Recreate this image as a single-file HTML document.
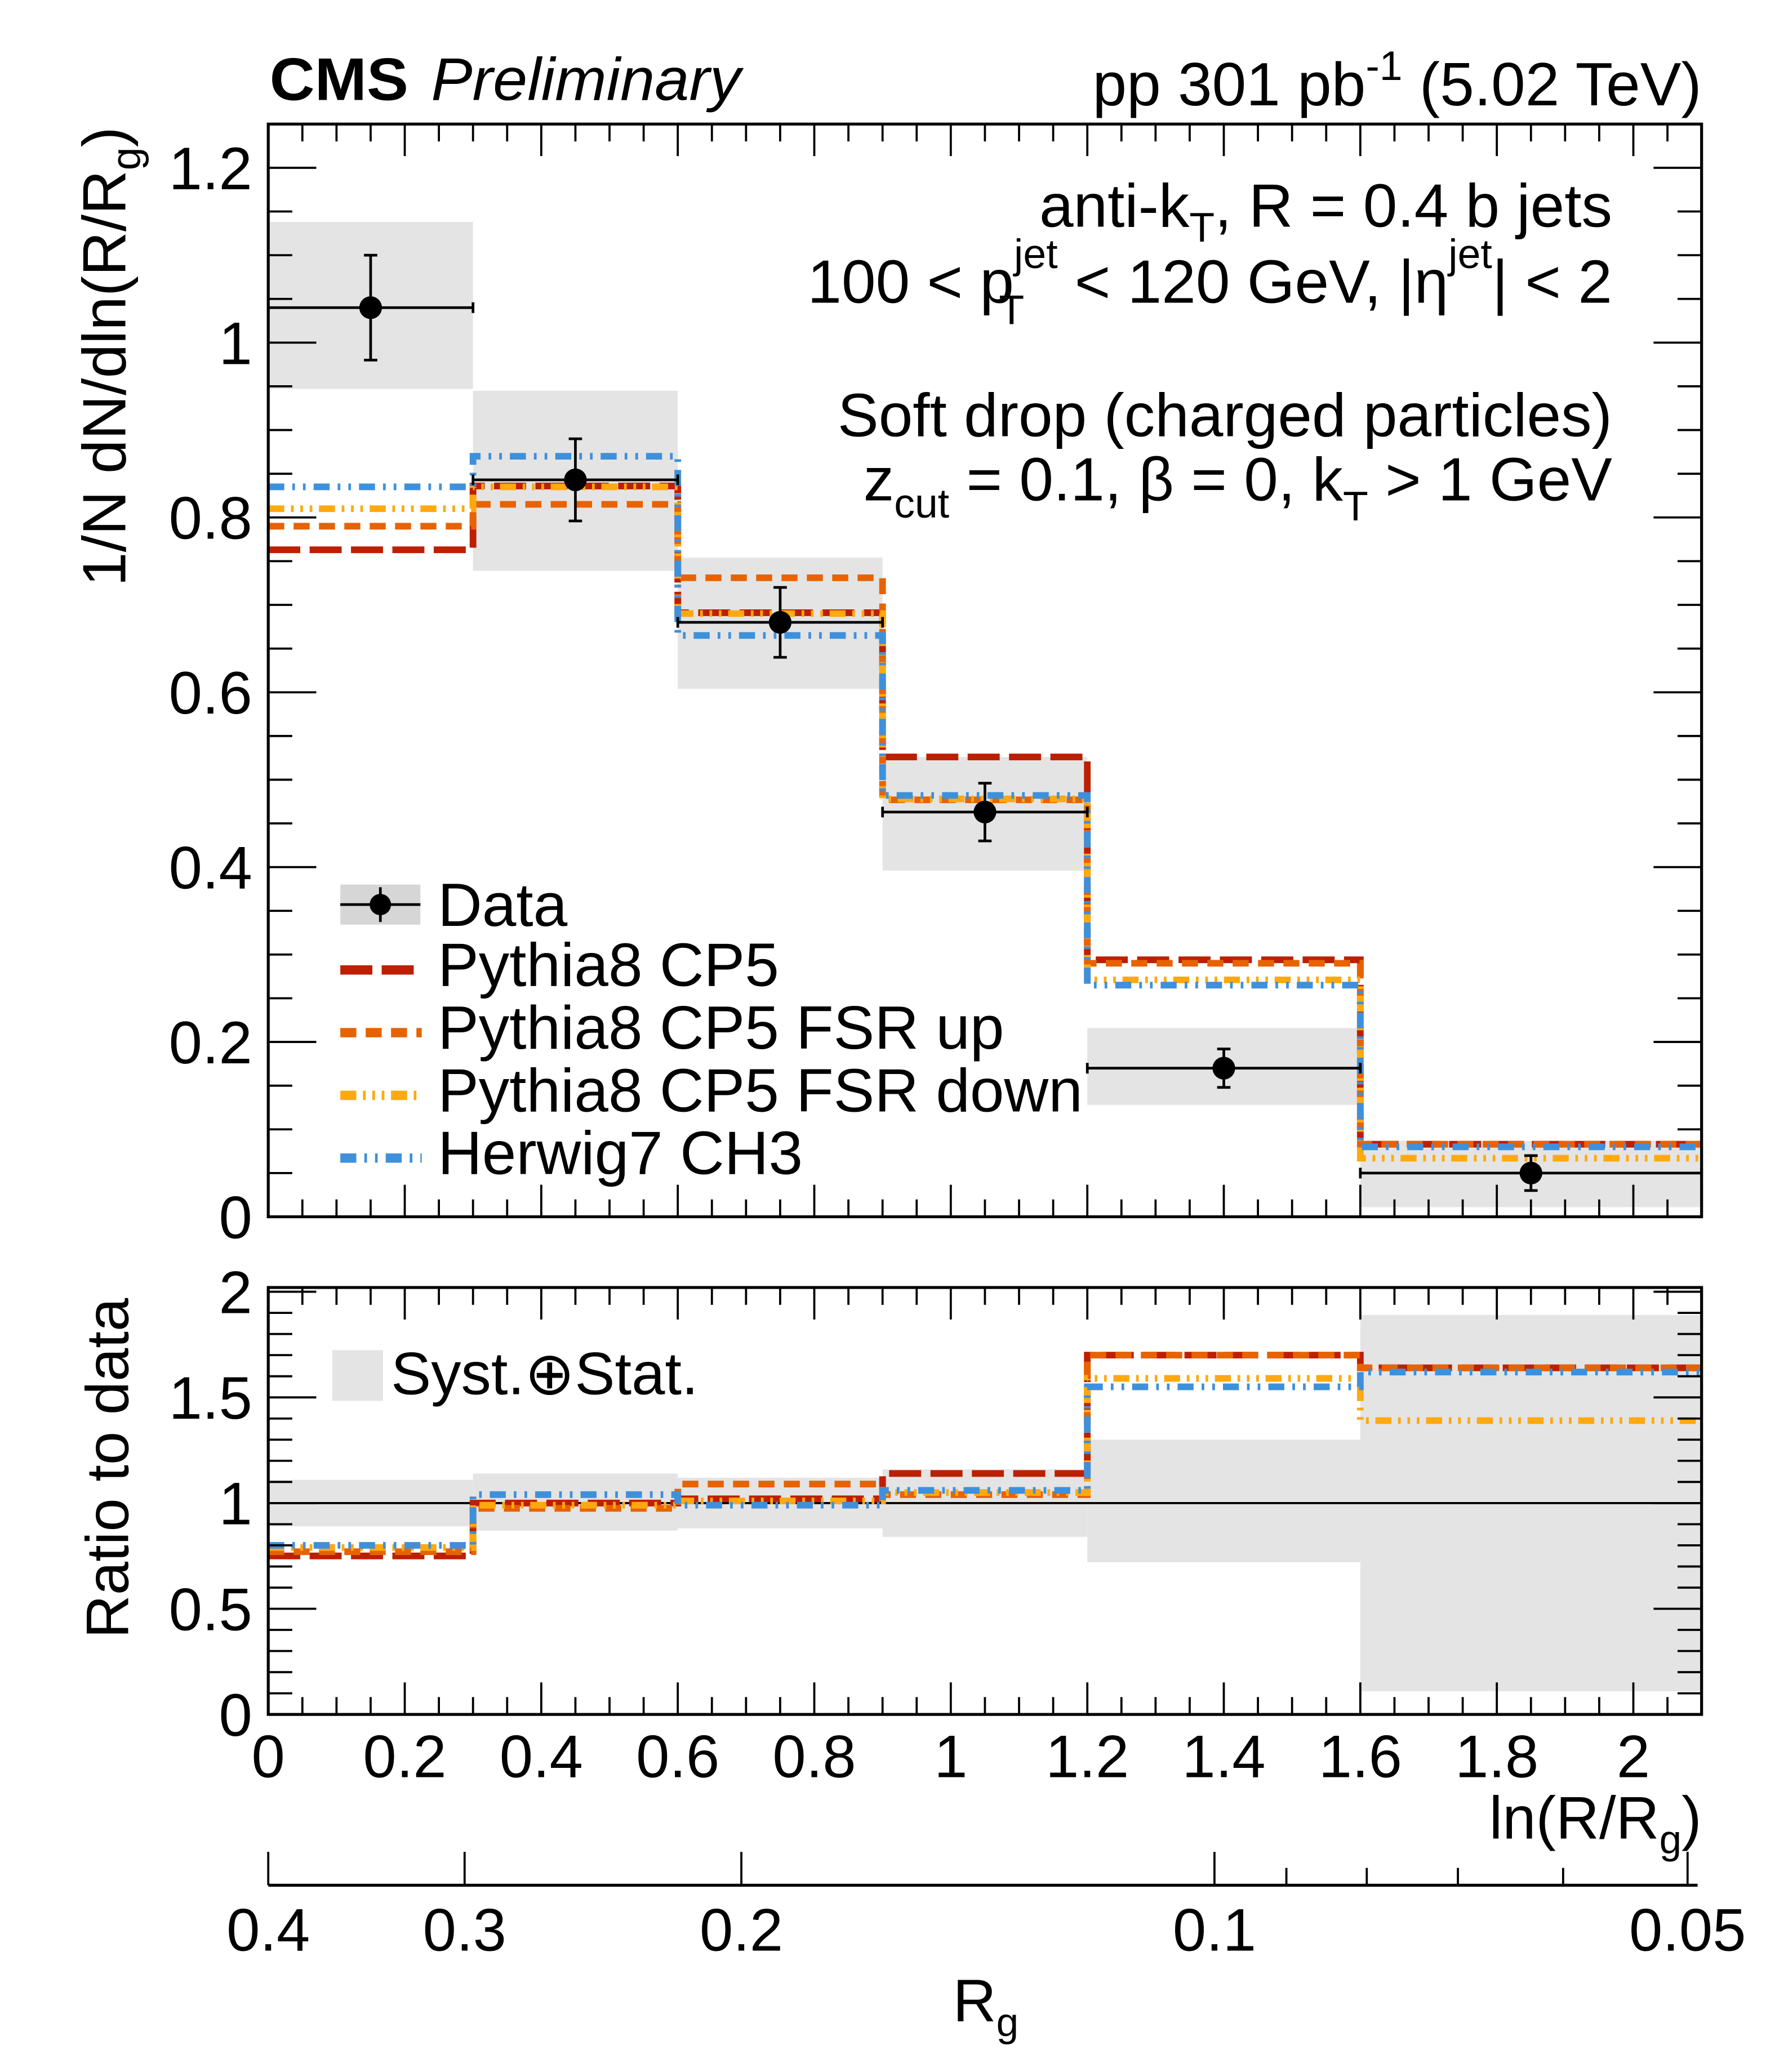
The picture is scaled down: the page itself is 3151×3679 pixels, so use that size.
<!DOCTYPE html>
<html><head><meta charset="utf-8">
<style>
html,body{margin:0;padding:0;background:#fff;}
svg{display:block;font-family:"Liberation Sans",Arial,sans-serif;}
</style></head>
<body>
<svg id="chart" xmlns="http://www.w3.org/2000/svg" width="3151" height="3679" viewBox="0 0 1330 1553" preserveAspectRatio="none">
<g id="main-bg"></g>
<g id="ratio-bg"></g>
<g id="marks"></g>
<g id="axes"></g>
<g id="texts">
  <text x="202" y="75" font-size="45" font-weight="bold" textLength="104" lengthAdjust="spacingAndGlyphs">CMS</text>
  <text x="323" y="75" font-size="45" font-style="italic" textLength="232" lengthAdjust="spacingAndGlyphs">Preliminary</text>
  <text x="1275" y="79" font-size="46" text-anchor="end">pp 301 pb<tspan dy="-19" font-size="31">-1</tspan><tspan dy="19"> (5.02 TeV)</tspan></text>
  <text x="1208" y="170" font-size="46" text-anchor="end">anti-k<tspan dy="11" font-size="31">T</tspan><tspan dy="-11">, R = 0.4 b jets</tspan></text>
  <text x="1208" y="227" font-size="46" text-anchor="end">100 &lt; p<tspan dy="-26" font-size="31">jet</tspan><tspan dx="-44" dy="42" font-size="31">T</tspan><tspan dy="-16" dx="25"> &lt; 120 GeV, |η</tspan><tspan dy="-26" font-size="31">jet</tspan><tspan dy="26">| &lt; 2</tspan></text>
  <text x="1208" y="327" font-size="46" text-anchor="end">Soft drop (charged particles)</text>
  <text x="1208" y="375" font-size="46" text-anchor="end">z<tspan dy="13" font-size="31">cut</tspan><tspan dy="-13"> = 0.1, β = 0, k</tspan><tspan dy="15" font-size="31">T</tspan><tspan dy="-15"> &gt; 1 GeV</tspan></text>
  <text transform="translate(94,95) rotate(-90)" font-size="46" text-anchor="end">1/N dN/dln(R/R<tspan dy="11" font-size="31">g</tspan><tspan dy="-11">)</tspan></text>
  <text transform="translate(96,1228) rotate(-90)" font-size="45">Ratio to data</text>
  <text x="1275" y="1378" font-size="45" text-anchor="end">ln(R/R<tspan dy="11" font-size="30">g</tspan><tspan dy="-11">)</tspan></text>
  <text x="714" y="1515" font-size="45">R<tspan dy="11" font-size="30">g</tspan></text>
</g>
<g id="legend"></g>
</svg>
<script>
// ---- data ----
const binEdges = [0, 0.3, 0.6, 0.9, 1.2, 1.6, 2.1];
const dataVals = [1.04, 0.843, 0.68, 0.463, 0.17, 0.05];
const dataStatErr = [0.06, 0.047, 0.04, 0.033, 0.022, 0.02];
const systLow = [0.947, 0.739, 0.604, 0.396, 0.128, 0.011];
const systHigh = [1.138, 0.945, 0.754, 0.526, 0.216, 0.087];
const pythia = [0.763, 0.836, 0.691, 0.526, 0.294, 0.083];
const fsrUp = [0.79, 0.815, 0.731, 0.477, 0.29, 0.083];
const fsrDown = [0.81, 0.835, 0.69, 0.478, 0.271, 0.067];
const herwig = [0.835, 0.87, 0.665, 0.482, 0.265, 0.08];
const ratioSystLow = [0.89, 0.87, 0.88, 0.84, 0.72, 0.11];
const ratioSystHigh = [1.11, 1.14, 1.12, 1.16, 1.30, 1.89];
const ratioPythia = [0.75, 1.0, 1.02, 1.14, 1.70, 1.64];
const ratioFsrUp = [0.77, 0.975, 1.09, 1.04, 1.70, 1.64];
const ratioFsrDown = [0.79, 0.99, 1.01, 1.05, 1.59, 1.39];
const ratioHerwig = [0.80, 1.04, 0.99, 1.06, 1.55, 1.62];
const xTickLabels = ["0","0.2","0.4","0.6","0.8","1","1.2","1.4","1.6","1.8","2"];
const yTickLabels = ["0","0.2","0.4","0.6","0.8","1","1.2"];
const ratioTickLabels = ["0","0.5","1","1.5","2"];
const rgTickLabels = ["0.4","0.3","0.2","0.1","0.05"];
const rgMinor = [0.09,0.08,0.07,0.06];

// ---- geometry ----
const NS="http://www.w3.org/2000/svg";
const X0=201,X1=1275,XMAX=2.1;
const MT=93,MB=912,YMAX=1.25;
const RT=965,RB=1285,RMAX=2.02;
const sx=v=>X0+(X1-X0)*v/XMAX;
const sy=v=>MB-(MB-MT)*v/YMAX;
const ry=v=>RB-(RB-RT)*v/RMAX;
function mk(tag,attrs,parent){const e=document.createElementNS(NS,tag);for(const k in attrs)e.setAttribute(k,attrs[k]);parent.appendChild(e);return e;}
const marks=document.getElementById('marks'),axes=document.getElementById('axes'),leg=document.getElementById('legend');
const mainBg=document.getElementById('main-bg'),ratioBg=document.getElementById('ratio-bg');

for(let i=0;i<dataVals.length;i++){
  let r=mk('rect',{x:sx(binEdges[i]),y:sy(systHigh[i]),width:sx(binEdges[i+1])-sx(binEdges[i]),height:sy(systLow[i])-sy(systHigh[i]),fill:'#e4e4e4'},mainBg);
  
  
  let q=mk('rect',{x:sx(binEdges[i]),y:ry(ratioSystHigh[i]),width:sx(binEdges[i+1])-sx(binEdges[i]),height:ry(ratioSystLow[i])-ry(ratioSystHigh[i]),fill:'#e4e4e4'},ratioBg);
  
  
}
let ul=mk('line',{x1:X0,x2:X1,y1:ry(1),y2:ry(1),stroke:'#000','stroke-width':1.6},ratioBg);



const series=[
 {name:'pythia8-cp5',vals:pythia,rv:ratioPythia,color:'#bd1f01',dash:'24,7'},
 {name:'pythia8-fsr-up',vals:fsrUp,rv:ratioFsrUp,color:'#e76300',dash:'12,7'},
 {name:'pythia8-fsr-down',vals:fsrDown,rv:ratioFsrDown,color:'#ffa90e',dash:'12,5,2,5,2,5,2,5'},
 {name:'herwig7-ch3',vals:herwig,rv:ratioHerwig,color:'#3f90da',dash:'12,6,2,6,2,6'}
];
function stepPath(vals,yf){
  let d='M'+sx(binEdges[0])+','+yf(vals[0]);
  for(let i=0;i<vals.length;i++){
    d+=' L'+sx(binEdges[i+1])+','+yf(vals[i]);
    if(i+1<vals.length)d+=' L'+sx(binEdges[i+1])+','+yf(vals[i+1]);
  }
  return d;
}
series.forEach(s=>{
  let p=mk('path',{d:stepPath(s.vals,sy),fill:'none',stroke:s.color,'stroke-width':5,'stroke-dasharray':s.dash},marks);
  
  
  let q=mk('path',{d:stepPath(s.rv,ry),fill:'none',stroke:s.color,'stroke-width':5,'stroke-dasharray':s.dash},marks);
  
  
});
for(let i=0;i<dataVals.length;i++){
  const g=mk('g',{},marks);
  
  
  const xa=sx(binEdges[i]),xb=sx(binEdges[i+1]),xc=(xa+xb)/2,y=sy(dataVals[i]);
  const yh=sy(dataVals[i]+dataStatErr[i]),yl=sy(dataVals[i]-dataStatErr[i]);
  mk('line',{x1:xa,x2:xb,y1:y,y2:y,stroke:'#000','stroke-width':2},g);
  mk('line',{x1:xa,x2:xa,y1:y-4,y2:y+4,stroke:'#000','stroke-width':2},g);
  mk('line',{x1:xb,x2:xb,y1:y-4,y2:y+4,stroke:'#000','stroke-width':2},g);
  mk('line',{x1:xc,x2:xc,y1:yh,y2:yl,stroke:'#000','stroke-width':2},g);
  mk('line',{x1:xc-5,x2:xc+5,y1:yh,y2:yh,stroke:'#000','stroke-width':2},g);
  mk('line',{x1:xc-5,x2:xc+5,y1:yl,y2:yl,stroke:'#000','stroke-width':2},g);
  mk('circle',{cx:xc,cy:y,r:8.5,fill:'#000'},g);
}

function frame(top,bot,nm){
  let r=mk('rect',{x:X0,y:top,width:X1-X0,height:bot-top,fill:'none',stroke:'#000','stroke-width':2.2},axes);
  
  
}
frame(MT,MB,'main-frame');frame(RT,RB,'ratio-frame');
function xTicks(top,bot,labels){
  for(let k=0;k*0.05<=XMAX+1e-9;k++){
    const v=k*0.05,x=sx(v),L=(k%4==0)?24:13;
    mk('line',{x1:x,x2:x,y1:bot,y2:bot-L,stroke:'#000','stroke-width':1.6},axes);
    mk('line',{x1:x,x2:x,y1:top,y2:top+L,stroke:'#000','stroke-width':1.6},axes);
  }
  if(labels){xTickLabels.forEach((t,i)=>{
    const el=mk('text',{x:sx(i*0.2),y:1332,'font-size':45,'text-anchor':'middle'},axes);
    
    
    el.textContent=t;});}
}
xTicks(MT,MB,false);xTicks(RT,RB,true);
for(let k=0;k*0.05<=YMAX+1e-9;k++){
  const y=sy(k*0.05),L=(k%4==0)?36:18;
  mk('line',{x1:X0,x2:X0+L,y1:y,y2:y,stroke:'#000','stroke-width':1.6},axes);
  mk('line',{x1:X1,x2:X1-L,y1:y,y2:y,stroke:'#000','stroke-width':1.6},axes);
}
yTickLabels.forEach((t,i)=>{
  const el=mk('text',{x:189,y:sy(i*0.2)+16,'font-size':45,'text-anchor':'end'},axes);
  
  
  el.textContent=t;});
for(let k=0;k*0.1<=RMAX+1e-9;k++){
  const y=ry(k*0.1),L=(k%5==0)?36:18;
  mk('line',{x1:X0,x2:X0+L,y1:y,y2:y,stroke:'#000','stroke-width':1.6},axes);
  mk('line',{x1:X1,x2:X1-L,y1:y,y2:y,stroke:'#000','stroke-width':1.6},axes);
}
ratioTickLabels.forEach((t,i)=>{
  const el=mk('text',{x:189,y:ry(i*0.5)+16,'font-size':45,'text-anchor':'end'},axes);
  
  
  el.textContent=t;});
const AY=1413,lnx=r=>sx(Math.log(0.4/r));
let al=mk('line',{x1:X0,x2:1272,y1:AY,y2:AY,stroke:'#000','stroke-width':2.2},axes);


rgTickLabels.forEach(t=>{
  const x=lnx(parseFloat(t));
  mk('line',{x1:x,x2:x,y1:AY,y2:AY-25,stroke:'#000','stroke-width':1.6},axes);
  const el=mk('text',{x:x,y:1462,'font-size':45,'text-anchor':'middle'},axes);
  
  
  el.textContent=t;});
rgMinor.forEach(r=>{const x=lnx(r);mk('line',{x1:x,x2:x,y1:AY,y2:AY-13,stroke:'#000','stroke-width':1.6},axes);});

const legY=[678,723,770,817,864];
const legNames=['Data','Pythia8 CP5','Pythia8 CP5 FSR up','Pythia8 CP5 FSR down','Herwig7 CH3'];
legNames.forEach((n,i)=>{
  const g=mk('g',{},leg);
  
  
  const y=legY[i];
  if(i==0){
    mk('rect',{x:255,y:y-15,width:60,height:30,fill:'#d6d6d6'},g);
    mk('line',{x1:255,x2:315,y1:y,y2:y,stroke:'#000','stroke-width':2},g);
    mk('line',{x1:285,x2:285,y1:y-13,y2:y+13,stroke:'#000','stroke-width':2},g);
    mk('circle',{cx:285,cy:y,r:8,fill:'#000'},g);
  } else {
    const s=series[i-1];
    mk('line',{x1:255,x2:316,y1:y+4,y2:y+4,stroke:s.color,'stroke-width':7,'stroke-dasharray':s.dash},g);
  }
  const t=mk('text',{x:328,y:y+16,'font-size':46},g);
  t.textContent=n;
});
const sg=mk('g',{},leg);


mk('rect',{x:249,y:1012,width:38,height:38,fill:'#e4e4e4'},sg);
const st=mk('text',{x:293,y:1045,'font-size':45},sg);
st.textContent='Syst.⊕Stat.';
</script>
</body></html>
